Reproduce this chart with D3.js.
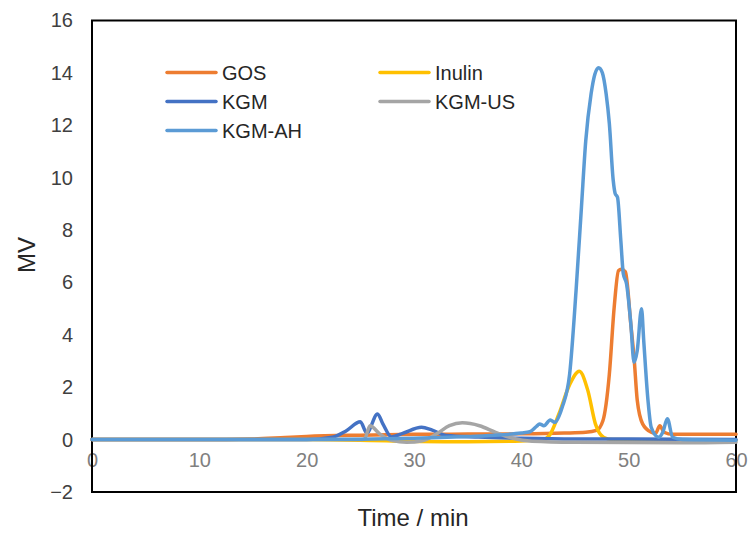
<!DOCTYPE html>
<html>
<head>
<meta charset="utf-8">
<script src="https://cdn.jsdelivr.net/npm/d3@7"></script>
<style>
  body { margin: 0; background: white; }
  svg { font-family: "Liberation Sans", Arial, sans-serif; }
</style>
</head>
<body>
<div id="chart"></div>
<script>
// series names and colours (legend order)
var seriesNames = ["GOS", "Inulin", "KGM", "KGM-US", "KGM-AH"];
var seriesColors = ["#ED7D31", "#FFC000", "#4472C4", "#A5A5A5", "#5B9BD5"];

// [time (min), signal (MV)]
var gos = [[0,0],[10,0],[15,0.02],[18,0.08],[20,0.12],[25,0.17],[30,0.2],[35,0.21],[40,0.22],[44,0.25],
  [46,0.28],[47,0.35],[47.6,0.72],[48.2,2.5],[48.65,5.05],[49.05,6.45],[49.3,6.5],[49.7,6.4],[50.2,4.4],
  [50.5,3.14],[50.8,1.5],[51.3,0.6],[52.1,0.28],[52.5,0.24],[52.9,0.53],[53.3,0.28],[54.1,0.2],[56,0.2],[60,0.2]];
var inulin = [[0,0],[20,0],[28,-0.05],[35,-0.08],[40,-0.05],[42,0],[42.6,0.15],[43.5,0.98],[44.5,2.1],
  [45.4,2.61],[46.2,1.87],[46.9,0.6],[47.7,0.08],[48.5,0],[60,-0.02]];
var kgm = [[0,0],[20,0],[22.4,0.09],[23.7,0.34],[25.0,0.68],[25.6,0.25],[26.6,0.98],[27.1,0.6],[27.9,0.1],
  [29.0,0.25],[30.7,0.47],[31.7,0.36],[33.0,0.16],[36,0.1],[40,0.05],[45,0.02],[50,0.02],[60,0]];
var kgmUs = [[0,0],[25,0],[25.4,0.03],[25.9,0.53],[26.8,0.22],[28,-0.04],[29.3,-0.1],[30.8,-0.04],[32.1,0.22],
  [33.3,0.53],[34.5,0.64],[36.1,0.53],[37.6,0.28],[39.2,0.05],[41,-0.06],[45,-0.1],[55,-0.12],[60,-0.1]];
var kgmAh = [[0,0],[20,0],[30,0.05],[35,0.12],[38,0.18],[40,0.25],[40.8,0.3],[41.4,0.5],[41.7,0.6],[42.1,0.53],
  [42.7,0.75],[43.1,0.66],[43.8,1.23],[44.5,2.5],[45.1,5.7],[45.6,8.87],[46.0,11.4],[46.5,13.2],[46.85,13.95],
  [47.2,14.2],[47.55,14.0],[47.9,13.2],[48.2,12.06],[48.56,9.9],[48.74,9.4],[48.96,9.25],[49.27,7.6],[49.5,6.33],
  [49.8,5.95],[50.2,4.43],[50.5,2.95],[50.8,3.4],[51.2,5.0],[51.4,3.8],[51.8,1.5],[52.1,0.47],[52.8,0.09],
  [53.2,0.3],[53.6,0.8],[54.1,0.09],[55,0],[60,-0.02]];
var seriesData = [gos, inulin, kgm, kgmUs, kgmAh];

var xTicks = [0, 10, 20, 30, 40, 50, 60];
var yTicks = [-2, 0, 2, 4, 6, 8, 10, 12, 14, 16];

var width = 750, height = 533;
// plot box edges ("top" is taken by window.top)
var boxLeft = 92, boxRight = 736, boxTop = 20.5, boxBottom = 492;

var svg = d3.select("#chart").append("svg")
  .attr("width", width)
  .attr("height", height);

var x = d3.scaleLinear().domain([0, 60]).range([boxLeft, boxRight]);
var y = d3.scaleLinear().domain([-2, 16]).range([boxBottom, boxTop]);

// y axis labels, no tick marks
var yAxis = d3.axisLeft(y).tickValues(yTicks).tickSize(0).tickPadding(19);
var gy = svg.append("g")
  .attr("transform", "translate(" + boxLeft + ",0)")
  .call(yAxis);
gy.select(".domain").remove();
gy.selectAll("text")
  .attr("font-size", 20)
  .attr("fill", "#404040")
  .style("font-family", "'Liberation Sans', Arial, sans-serif");

// x axis labels sit just under the zero line
var xAxis = d3.axisBottom(x).tickValues(xTicks).tickSize(0).tickPadding(13);
var gx = svg.append("g")
  .attr("transform", "translate(0," + y(0) + ")")
  .call(xAxis);
gx.select(".domain").remove();
gx.selectAll("text")
  .attr("font-size", 20)
  .attr("fill", "#808080")
  .style("font-family", "'Liberation Sans', Arial, sans-serif");

// plot box
svg.append("rect")
  .attr("x", boxLeft)
  .attr("y", boxTop)
  .attr("width", boxRight - boxLeft)
  .attr("height", boxBottom - boxTop)
  .attr("fill", "none")
  .attr("stroke", "black")
  .attr("stroke-width", 2);

// lines
var line = d3.line()
  .x(function(d){ return x(d[0]); })
  .y(function(d){ return y(d[1]); })
  .curve(d3.curveMonotoneX);

for (var i = 0; i < seriesData.length; i++){
  svg.append("path")
    .datum(seriesData[i])
    .attr("d", line)
    .attr("fill", "none")
    .attr("stroke", seriesColors[i])
    .attr("stroke-width", 3.5)
    .attr("stroke-linejoin", "round")
    .attr("stroke-linecap", "round");
}

// legend, two columns
var legendX = [167, 380];
var legendY = [72.5, 101.5, 130.5];
for (var k = 0; k < seriesNames.length; k++){
  var lx = legendX[k % 2];
  var ly = legendY[Math.floor(k / 2)];
  svg.append("line")
    .attr("x1", lx).attr("x2", lx + 49)
    .attr("y1", ly).attr("y2", ly)
    .attr("stroke", seriesColors[k])
    .attr("stroke-width", 3.5)
    .attr("stroke-linecap", "round");
  svg.append("text")
    .attr("x", lx + 55)
    .attr("y", ly)
    .attr("dy", "0.35em")
    .attr("font-size", 20)
    .attr("fill", "#262626")
    .text(seriesNames[k]);
}

// axis titles
svg.append("text")
  .attr("transform", "translate(27,255) rotate(-90)")
  .attr("text-anchor", "middle")
  .attr("dy", "0.35em")
  .attr("font-size", 24)
  .attr("fill", "#262626")
  .text("MV");

svg.append("text")
  .attr("x", 413)
  .attr("y", 518)
  .attr("text-anchor", "middle")
  .attr("dy", "0.35em")
  .attr("font-size", 24)
  .attr("fill", "#262626")
  .text("Time / min");
</script>
</body>
</html>
